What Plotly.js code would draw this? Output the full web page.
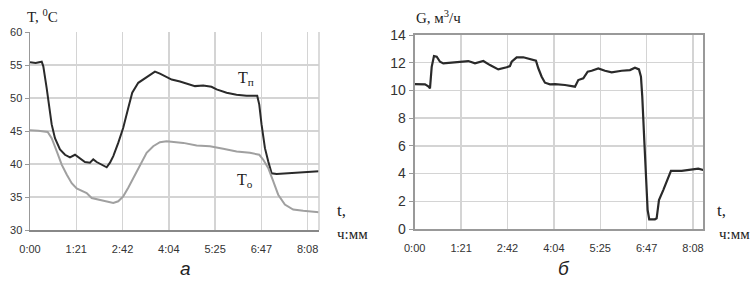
<!DOCTYPE html>
<html><head><meta charset="utf-8">
<script src="https://cdn.plot.ly/plotly-3.0.1.min.js"></script>
<style>html,body{margin:0;padding:0;background:#fff}#c{width:753px;height:281px}</style>
</head><body><div id="c"></div>
<script>
// time in minutes
const tTp = [0,10,20.6,23.4,29.3,35.1,38.1,43.9,52.7,61.5,70.3,79.1,87.9,96.6,105.4,111.2,117.2,126,134.8,140.6,146.4,155.1,163.9,172.7,179.7,190.3,202,210.8,219.6,228.4,237.2,249,263.6,281,290,304.5,319,328,345.6,363,380.7,399.4,403,407,413,418.7,424.7,433.5,456.8,480.2,507.8];
const Tp = [55.4,55.3,55.5,54.8,51.5,47.5,46,43.9,42.2,41.4,41,41.4,40.8,40.3,40.2,40.7,40.3,39.9,39.5,40.2,41.2,43.2,45.5,48.5,50.8,52.3,53,53.5,54,53.7,53.3,52.8,52.5,52.0,51.8,51.9,51.7,51.3,50.8,50.5,50.35,50.35,49,46,42.4,40.4,38.6,38.5,38.6,38.8,38.9];
const tTo = [0,14.6,31.1,38.1,46.9,55.7,64.5,73.3,82,90.8,99.6,108.4,120,134.8,146.4,155.1,163.9,172.7,181.5,193.3,205,216.6,228.4,240.2,253,269.4,292.9,316.3,339.6,363.2,386.5,403,410,418.7,427.5,436.3,448,462.6,480.2,497.8,507.8];
const To = [45.1,45.05,44.85,43.9,41.95,39.9,38.4,37.1,36.3,35.9,35.6,34.85,34.6,34.35,34.1,34.35,35.1,36.4,37.9,39.9,41.7,42.7,43.3,43.45,43.35,43.2,42.8,42.7,42.3,41.9,41.7,41.4,40.65,39.4,37.4,35.35,33.85,33.1,32.9,32.8,32.7];
const tG = [0,18.1,23.8,26.8,29.8,33.8,38.6,44.4,50.1,67.7,82.4,94,105.7,120.3,132,146.5,161.3,167,170,178.8,190.4,202.1,212.6,216.7,222.6,228.4,237.2,246,254.7,263.5,281,286.8,295.6,303.3,310.3,321.9,333.6,345.3,362.9,377.4,386.2,393.2,396.7,399,402.5,405.5,408.4,411.2,421.2,424.2,428.3,435.8,444.6,449.3,468,485.6,497.2,505.9];
const G = [10.46,10.44,10.3,10.15,11.7,12.48,12.43,12.07,11.95,12.03,12.12,12.12,11.95,12.12,11.83,11.52,11.67,11.76,12.07,12.39,12.39,12.24,12.14,11.6,10.99,10.56,10.44,10.46,10.44,10.39,10.27,10.75,10.87,11.35,11.42,11.59,11.42,11.3,11.42,11.47,11.64,11.52,10.99,9.55,6.42,3.54,1.37,0.7,0.7,0.77,2.09,2.81,3.77,4.2,4.2,4.26,4.35,4.26];
const tickVals = [0,81.33,162.67,244,325.33,406.67,488];
const tickText = ['0:00','1:21','2:42','4:04','5:25','6:47','8:08'];
const tempTicks = [30,35,40,45,50,55,60];
const flowTicks = [0,2,4,6,8,10,12,14];

const W = 753, H = 281;
const px = x => x / W, py = y => 1 - y / H;
const tickFont = {family: 'Liberation Sans, Arial, sans-serif', size: 11, color: '#333'};
const serif = 'Liberation Serif, Times New Roman, serif';

const traces = [
  {x: tTp, y: Tp, xaxis: 'x', yaxis: 'y', mode: 'lines', line: {color: '#2a2a2a', width: 2}, hoverinfo: 'skip'},
  {x: tTo, y: To, xaxis: 'x', yaxis: 'y', mode: 'lines', line: {color: '#a0a0a0', width: 2}, hoverinfo: 'skip'},
  {x: tG, y: G, xaxis: 'x2', yaxis: 'y2', mode: 'lines', line: {color: '#2a2a2a', width: 2.2}, hoverinfo: 'skip'}
];

const xCommon = {tickmode: 'array', tickvals: tickVals, ticktext: tickText, showgrid: true, gridcolor: '#d4d4d4', gridwidth: 1.5, zeroline: false, ticks: '', ticklabelstandoff: 8, tickfont: tickFont, fixedrange: true};

function ann(text, x, y, font) {
  return {text: text, x: px(x), y: py(y), xref: 'paper', yref: 'paper', xanchor: 'center', yanchor: 'middle', showarrow: false, font: font};
}

const layout = {
  width: W, height: H, margin: {l: 0, r: 0, t: 0, b: 0},
  paper_bgcolor: '#fff', plot_bgcolor: '#fff', showlegend: false,
  xaxis: Object.assign({}, xCommon, {domain: [px(30), px(319)], range: [0, 508], anchor: 'y', showline: true, linecolor: '#888', linewidth: 1.5}),
  yaxis: {domain: [py(230), py(32)], range: [30, 60], tickvals: tempTicks, showgrid: true, gridcolor: '#d4d4d4', gridwidth: 1.5, zeroline: false, showline: true, linecolor: '#999', linewidth: 1.5, ticks: 'outside', ticklen: 4, tickcolor: '#999', tickfont: tickFont, anchor: 'x', fixedrange: true},
  xaxis2: Object.assign({}, xCommon, {domain: [px(414.7), px(703.3)], range: [0, 506], anchor: 'y2', showline: true, linecolor: '#999', linewidth: 2, mirror: true}),
  yaxis2: {domain: [py(229), py(35)], range: [0, 14], tickvals: flowTicks, showgrid: true, gridcolor: '#d4d4d4', gridwidth: 1.5, zeroline: false, showline: true, linecolor: '#999', linewidth: 2, mirror: true, ticks: 'outside', ticklen: 4, tickcolor: '#999', tickfont: {family: 'Liberation Sans, Arial, sans-serif', size: 14, color: '#333'}, anchor: 'x2', fixedrange: true},
  shapes: [
    {type: 'line', xref: 'x domain', yref: 'y domain', x0: 1, x1: 1, y0: 0, y1: 1, line: {color: '#cfcfcf', width: 1.5}}
  ],
  annotations: [
    ann('T, <sup>0</sup>C', 42, 16, {family: serif, size: 15, color: '#222'}),
    ann('G, м<sup>3</sup>/ч', 438, 17, {family: serif, size: 15, color: '#222'}),
    ann('T<sub>п</sub>', 246, 78, {family: serif, size: 16, color: '#222'}),
    ann('T<sub>о</sub>', 245, 180, {family: serif, size: 16, color: '#222'}),
    ann('t,', 341, 210, {family: serif, size: 17, color: '#222'}),
    ann('ч:мм', 352, 234, {family: serif, size: 15, color: '#222'}),
    ann('t,', 721, 210, {family: serif, size: 17, color: '#222'}),
    ann('ч:мм', 734, 234, {family: serif, size: 15, color: '#222'}),
    ann('<i>а</i>', 185, 268, {family: 'Liberation Sans, Arial, sans-serif', size: 19, color: '#222'}),
    ann('<i>б</i>', 564, 268, {family: 'Liberation Sans, Arial, sans-serif', size: 19, color: '#222'})
  ]
};
Plotly.newPlot('c', traces, layout, {staticPlot: true, displayModeBar: false});
</script>
</body></html>
